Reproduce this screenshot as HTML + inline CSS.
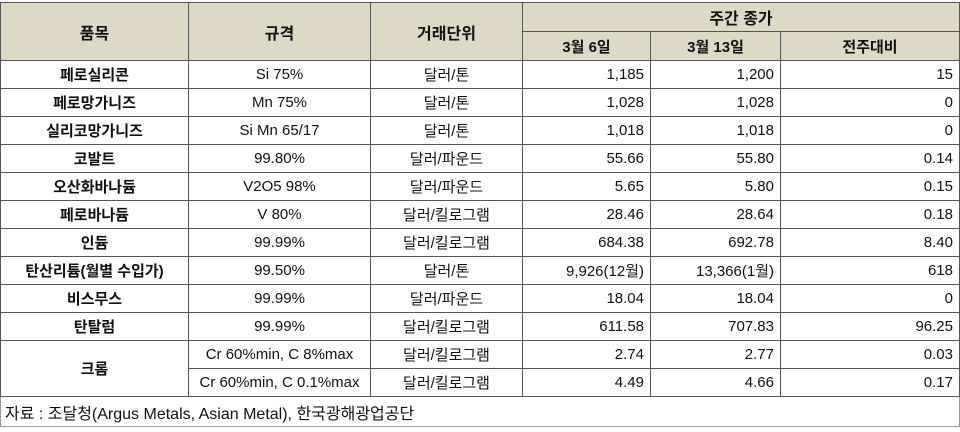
<!DOCTYPE html>
<html><head><meta charset="utf-8"><style>
body{margin:0;background:#fff;width:960px;height:432px;overflow:hidden;font-family:"Liberation Sans","Noto Sans CJK KR",sans-serif;}
table{position:absolute;left:0;top:2px;border-collapse:collapse;table-layout:fixed;width:959px;font-size:15px;color:#111;}
td{border:1px solid #555;height:27px;padding:0 4px;text-align:center;white-space:nowrap;}
tr.h td{background:#ddd9c4;font-weight:bold;height:28px;}
td.n{text-align:right;padding-right:6px;}
td.b{font-weight:bold;}
td.f{text-align:left;font-size:16px;height:29px;border:1px solid #999;}
</style></head><body>
<table>
<colgroup><col style="width:188px"><col style="width:182px"><col style="width:152px"><col style="width:128px"><col style="width:130px"><col style="width:179px"></colgroup>
<tr class="h"><td rowspan="2" style="font-size:16px">품목</td><td rowspan="2" style="font-size:16px">규격</td><td rowspan="2" style="font-size:16px">거래단위</td><td colspan="3" style="font-size:16px">주간 종가</td></tr>
<tr class="h"><td>3월 6일</td><td>3월 13일</td><td>전주대비</td></tr>
<tr><td class="b">페로실리콘</td><td>Si 75%</td><td>달러/톤</td><td class="n">1,185</td><td class="n">1,200</td><td class="n">15</td></tr>
<tr><td class="b">페로망가니즈</td><td>Mn 75%</td><td>달러/톤</td><td class="n">1,028</td><td class="n">1,028</td><td class="n">0</td></tr>
<tr><td class="b">실리코망가니즈</td><td>Si Mn 65/17</td><td>달러/톤</td><td class="n">1,018</td><td class="n">1,018</td><td class="n">0</td></tr>
<tr><td class="b">코발트</td><td>99.80%</td><td>달러/파운드</td><td class="n">55.66</td><td class="n">55.80</td><td class="n">0.14</td></tr>
<tr><td class="b">오산화바나듐</td><td>V2O5 98%</td><td>달러/파운드</td><td class="n">5.65</td><td class="n">5.80</td><td class="n">0.15</td></tr>
<tr><td class="b">페로바나듐</td><td>V 80%</td><td>달러/킬로그램</td><td class="n">28.46</td><td class="n">28.64</td><td class="n">0.18</td></tr>
<tr><td class="b">인듐</td><td>99.99%</td><td>달러/킬로그램</td><td class="n">684.38</td><td class="n">692.78</td><td class="n">8.40</td></tr>
<tr><td class="b">탄산리튬(월별 수입가)</td><td>99.50%</td><td>달러/톤</td><td class="n">9,926(12월)</td><td class="n">13,366(1월)</td><td class="n">618</td></tr>
<tr><td class="b">비스무스</td><td>99.99%</td><td>달러/파운드</td><td class="n">18.04</td><td class="n">18.04</td><td class="n">0</td></tr>
<tr><td class="b">탄탈럼</td><td>99.99%</td><td>달러/킬로그램</td><td class="n">611.58</td><td class="n">707.83</td><td class="n">96.25</td></tr>
<tr><td class="b" rowspan="2">크롬</td><td>Cr 60%min, C 8%max</td><td>달러/킬로그램</td><td class="n">2.74</td><td class="n">2.77</td><td class="n">0.03</td></tr>
<tr><td style="padding:0 1px">Cr 60%min, C 0.1%max</td><td>달러/킬로그램</td><td class="n">4.49</td><td class="n">4.66</td><td class="n">0.17</td></tr>
<tr><td class="f" colspan="6">자료 : 조달청(Argus Metals, Asian Metal), 한국광해광업공단</td></tr>
</table>
</body></html>
